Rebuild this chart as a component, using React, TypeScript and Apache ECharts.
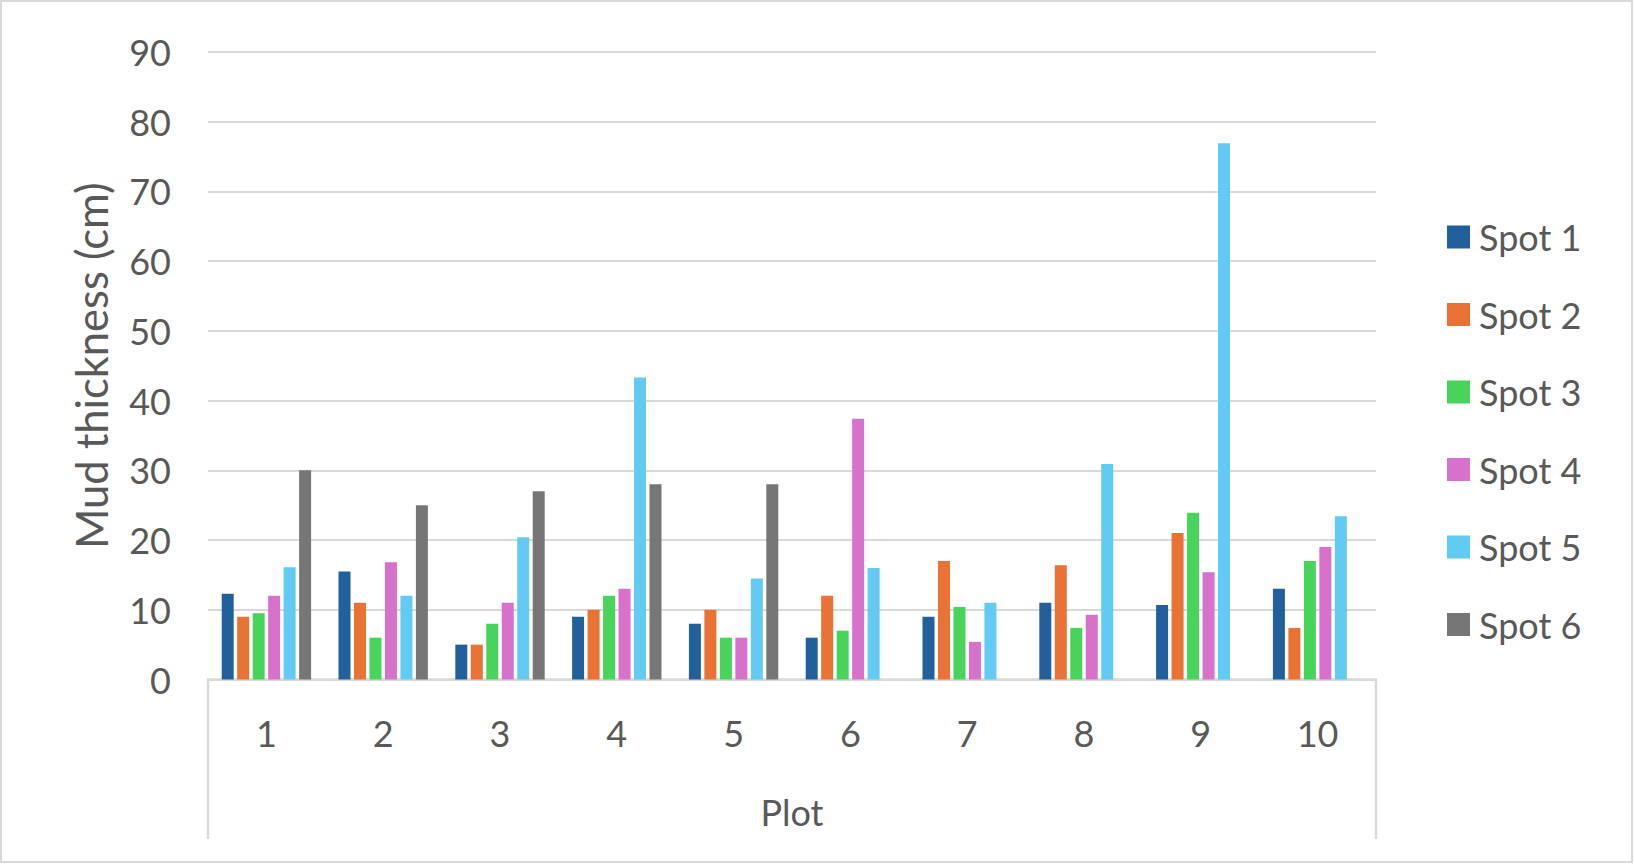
import React, { useEffect, useRef } from "react";
import * as echarts from "echarts";

const categories = ["1", "2", "3", "4", "5", "6", "7", "8", "9", "10"];
const seriesNames = ["Spot 1", "Spot 2", "Spot 3", "Spot 4", "Spot 5", "Spot 6"];
const spot1 = [12.3, 15.5, 5, 9, 8, 6, 9, 11, 10.7, 13];
const spot2 = [9, 11, 5, 10, 10, 12, 17, 16.4, 21, 7.4];
const spot3 = [9.5, 6, 8, 12, 6, 7, 10.4, 7.4, 23.9, 17];
const spot4 = [12, 16.8, 11, 13, 6, 37.4, 5.4, 9.3, 15.4, 19];
const spot5 = [16.1, 12, 20.4, 43.3, 14.5, 16, 11, 30.9, 76.9, 23.4];
const spot6 = [30, 25, 27, 28, 28, null, null, null, null, null];
const colors = ["#21609b", "#e97234", "#48d45b", "#d871cb", "#62cbf3", "#767676"];

const FONT = "Lato, 'Noto Sans', sans-serif";
const TEXT = "#595959";
const LINE = "#d9d9d9";

export default function App() {
  const ref = useRef<HTMLDivElement>(null);
  useEffect(() => {
    if (!ref.current) return;
    const chart = echarts.init(ref.current, null, { renderer: "svg" });
    const values = [spot1, spot2, spot3, spot4, spot5, spot6];
    chart.setOption({
      animation: false,
      backgroundColor: "#ffffff",
      textStyle: { fontFamily: FONT },
      grid: { left: 208, top: 52, width: 1168, height: 627.5, containLabel: false },
      legend: {
        orient: "vertical",
        left: 1447,
        top: 217,
        padding: 0,
        icon: "rect",
        itemWidth: 23,
        itemHeight: 23,
        itemGap: 37.5,
        itemStyle: { borderWidth: 0 },
        textStyle: { fontSize: 36, color: TEXT, fontFamily: FONT, lineHeight: 40, padding: [0, 0, 0, 4] },
        data: seriesNames,
      },
      xAxis: {
        type: "category",
        data: categories,
        name: "Plot",
        nameLocation: "middle",
        nameGap: 114,
        nameTextStyle: { fontSize: 36, color: TEXT, fontFamily: FONT, verticalAlign: "top" },
        axisLine: { show: true, lineStyle: { color: LINE, width: 2.5 } },
        axisTick: { show: false },
        axisLabel: { fontSize: 36, color: TEXT, fontFamily: FONT, margin: 35 },
      },
      yAxis: {
        type: "value",
        min: 0,
        max: 90,
        interval: 10,
        name: "Mud thickness (cm)",
        nameLocation: "middle",
        nameGap: 117,
        nameRotate: 90,
        nameTextStyle: { fontSize: 43.5, color: TEXT, fontFamily: FONT, verticalAlign: "middle" },
        axisLine: { show: false },
        axisTick: { show: false },
        axisLabel: { fontSize: 36, color: TEXT, fontFamily: FONT, margin: 37 },
        splitLine: { lineStyle: { color: LINE, width: 2.2 } },
      },
      graphic: [
        {
          type: "rect",
          shape: { x: 1, y: 1, width: 1631, height: 861 },
          style: { fill: "none", stroke: LINE, lineWidth: 2 },
          silent: true,
        },
        {
          type: "line",
          shape: { x1: 208, y1: 680, x2: 208, y2: 839 },
          style: { stroke: LINE, lineWidth: 2.5 },
          silent: true,
        },
        {
          type: "line",
          shape: { x1: 1376, y1: 680, x2: 1376, y2: 839 },
          style: { stroke: LINE, lineWidth: 2.5 },
          silent: true,
        },
      ],
      series: seriesNames.map((name, i) => ({
        name,
        type: "bar",
        data: values[i],
        barWidth: 12,
        barGap: "29%",
        itemStyle: { color: colors[i] },
      })),
    });
    return () => chart.dispose();
  }, []);
  return (
    <div
      ref={ref}
      style={{ position: "fixed", left: 0, top: 0, width: 1634, height: 864, background: "#fff" }}
    />
  );
}
